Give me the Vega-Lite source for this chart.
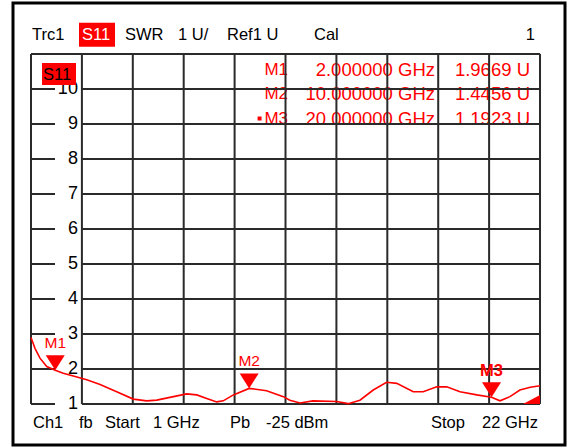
{
  "$schema": "https://vega.github.io/schema/vega-lite/v6.json",
  "width": 552,
  "height": 442,
  "autosize": "none",
  "padding": {"left": 13, "top": 3, "right": 4, "bottom": 2},
  "background": "white",
  "config": {
    "view": {"stroke": "black", "strokeWidth": 3},
    "text": {"font": "Liberation Sans", "fontSize": 16.5}
  },
  "datasets": {
    "trace": [
      {"f": 1.0, "v": 2.9}, {"f": 1.165, "v": 2.59}, {"f": 1.37, "v": 2.31}, {"f": 1.65, "v": 2.07},
      {"f": 2.0, "v": 1.967}, {"f": 2.33, "v": 1.88}, {"f": 2.745, "v": 1.8}, {"f": 3.3, "v": 1.69},
      {"f": 3.85, "v": 1.56}, {"f": 4.535, "v": 1.35}, {"f": 5.22, "v": 1.14}, {"f": 5.77, "v": 1.09},
      {"f": 6.19, "v": 1.11}, {"f": 6.73, "v": 1.19}, {"f": 7.42, "v": 1.29}, {"f": 7.84, "v": 1.26},
      {"f": 8.25, "v": 1.16}, {"f": 8.66, "v": 1.06}, {"f": 8.93, "v": 1.09}, {"f": 9.35, "v": 1.26},
      {"f": 10.0, "v": 1.4456}, {"f": 10.72, "v": 1.38}, {"f": 11.41, "v": 1.21}, {"f": 11.68, "v": 1.11},
      {"f": 12.1, "v": 1.03}, {"f": 12.63, "v": 1.09}, {"f": 13.61, "v": 1.07}, {"f": 14.09, "v": 1.01},
      {"f": 14.57, "v": 1.11}, {"f": 15.12, "v": 1.4}, {"f": 15.67, "v": 1.62}, {"f": 16.09, "v": 1.59},
      {"f": 16.77, "v": 1.35}, {"f": 17.18, "v": 1.35}, {"f": 17.74, "v": 1.49}, {"f": 18.15, "v": 1.49},
      {"f": 18.7, "v": 1.35}, {"f": 19.39, "v": 1.26}, {"f": 20.0, "v": 1.1923}, {"f": 20.35, "v": 1.09},
      {"f": 20.76, "v": 1.21}, {"f": 21.17, "v": 1.4}, {"f": 21.6, "v": 1.48}, {"f": 22.0, "v": 1.52}
    ],
    "markers": [
      {"name": "M1", "f": 2.0, "v": 1.9669, "active": false},
      {"name": "M2", "f": 10.0, "v": 1.4456, "active": false},
      {"name": "M3", "f": 20.0, "v": 1.1923, "active": true}
    ],
    "vgrid": [
      {"f": 1}, {"f": 3.1}, {"f": 5.2}, {"f": 7.3}, {"f": 9.4}, {"f": 11.5},
      {"f": 13.6}, {"f": 15.7}, {"f": 17.8}, {"f": 19.9}, {"f": 22}
    ],
    "hgrid": [
      {"v": 1}, {"v": 2}, {"v": 3}, {"v": 4}, {"v": 5}, {"v": 6}, {"v": 7}, {"v": 8}, {"v": 9}, {"v": 10}
    ],
    "table": [
      {"m": "M1", "freq": "2.000000 GHz", "val": "1.9669 U", "v": 10.543},
      {"m": "M2", "freq": "10.000000 GHz", "val": "1.4456 U", "v": 9.857},
      {"m": "M3", "freq": "20.000000 GHz", "val": "1.1923 U", "v": 9.157}
    ],
    "header": [
      {"t": "Trc1", "f": 1.041}, {"t": "SWR", "f": 4.878}, {"t": "1 U/", "f": 7.065},
      {"t": "Ref1 U", "f": 9.086}, {"t": "Cal", "f": 12.676}
    ],
    "footer": [
      {"t": "Ch1", "f": 1.083}, {"t": "fb", "f": 2.98}, {"t": "Start", "f": 4.053},
      {"t": "1 GHz", "f": 6.033}, {"t": "Pb", "f": 9.21}, {"t": "-25 dBm", "f": 10.695},
      {"t": "Stop", "f": 17.503}
    ],
    "boxes": [
      {"f": 2.98, "f2": 4.466, "v": 11.894, "v2": 11.209},
      {"f": 1.454, "f2": 2.857, "v": 10.743, "v2": 10.114}
    ]
  },
  "layer": [
    {
      "data": {"name": "table"},
      "mark": {"type": "text", "align": "right", "baseline": "middle", "color": "#ff0000", "fontSize": 17},
      "encoding": {
        "x": {"datum": 11.603, "type": "quantitative", "scale": {"domain": [0.2574, 23.031], "nice": false, "zero": false}, "axis": null},
        "y": {"field": "v", "type": "quantitative", "scale": {"domain": [-0.1714, 12.4571], "nice": false, "zero": false}, "axis": null},
        "text": {"field": "m"}
      }
    },
    {
      "data": {"name": "table"},
      "mark": {"type": "text", "align": "right", "baseline": "middle", "color": "#ff0000", "fontSize": 18.5},
      "encoding": {
        "x": {"datum": 17.668, "type": "quantitative", "scale": {"domain": [0.2574, 23.031], "nice": false, "zero": false}, "axis": null},
        "y": {"field": "v", "type": "quantitative", "scale": {"domain": [-0.1714, 12.4571], "nice": false, "zero": false}, "axis": null},
        "text": {"field": "freq"}
      }
    },
    {
      "data": {"name": "table"},
      "mark": {"type": "text", "align": "right", "baseline": "middle", "color": "#ff0000", "fontSize": 18.5},
      "encoding": {
        "x": {"datum": 21.587, "type": "quantitative", "scale": {"domain": [0.2574, 23.031], "nice": false, "zero": false}, "axis": null},
        "y": {"field": "v", "type": "quantitative", "scale": {"domain": [-0.1714, 12.4571], "nice": false, "zero": false}, "axis": null},
        "text": {"field": "val"}
      }
    },
    {
      "data": {"values": [{"f": 10.43, "v": 9.157}]},
      "mark": {"type": "point", "shape": "square", "filled": true, "color": "#ff0000", "size": 16, "opacity": 1},
      "encoding": {
        "x": {"field": "f", "type": "quantitative", "scale": {"domain": [0.2574, 23.031], "nice": false, "zero": false}, "axis": null},
        "y": {"field": "v", "type": "quantitative", "scale": {"domain": [-0.1714, 12.4571], "nice": false, "zero": false}, "axis": null}
      }
    },
    {
      "data": {"name": "vgrid"},
      "mark": {"type": "rule", "color": "#2a2a2a", "strokeWidth": 2},
      "encoding": {
        "x": {"field": "f", "type": "quantitative", "scale": {"domain": [0.2574, 23.031], "nice": false, "zero": false}, "axis": null},
        "y": {"datum": 1, "type": "quantitative", "scale": {"domain": [-0.1714, 12.4571], "nice": false, "zero": false}, "axis": null},
        "y2": {"datum": 11}
      }
    },
    {
      "data": {"name": "hgrid"},
      "mark": {"type": "rule", "color": "#2a2a2a", "strokeWidth": 2},
      "encoding": {
        "x": {"datum": 3.1, "type": "quantitative", "scale": {"domain": [0.2574, 23.031], "nice": false, "zero": false}, "axis": null},
        "x2": {"datum": 22},
        "y": {"field": "v", "type": "quantitative", "scale": {"domain": [-0.1714, 12.4571], "nice": false, "zero": false}, "axis": null}
      }
    },
    {
      "data": {"name": "hgrid"},
      "mark": {"type": "rule", "color": "#2a2a2a", "strokeWidth": 2},
      "encoding": {
        "x": {"datum": 1, "type": "quantitative", "scale": {"domain": [0.2574, 23.031], "nice": false, "zero": false}, "axis": null},
        "x2": {"datum": 1.99},
        "y": {"field": "v", "type": "quantitative", "scale": {"domain": [-0.1714, 12.4571], "nice": false, "zero": false}, "axis": null}
      }
    },
    {
      "data": {"values": [{"v": 11}]},
      "mark": {"type": "rule", "color": "#2a2a2a", "strokeWidth": 2},
      "encoding": {
        "x": {"datum": 1, "type": "quantitative", "scale": {"domain": [0.2574, 23.031], "nice": false, "zero": false}, "axis": null},
        "x2": {"datum": 22},
        "y": {"field": "v", "type": "quantitative", "scale": {"domain": [-0.1714, 12.4571], "nice": false, "zero": false}, "axis": null}
      }
    },
    {
      "data": {"name": "hgrid"},
      "mark": {"type": "text", "align": "right", "baseline": "middle", "dx": -4, "color": "#000000", "fontSize": 18},
      "encoding": {
        "x": {"datum": 3.1, "type": "quantitative", "scale": {"domain": [0.2574, 23.031], "nice": false, "zero": false}, "axis": null},
        "y": {"field": "v", "type": "quantitative", "scale": {"domain": [-0.1714, 12.4571], "nice": false, "zero": false}, "axis": null},
        "text": {"field": "v", "type": "quantitative"}
      }
    },
    {
      "data": {"name": "boxes"},
      "mark": {"type": "rect", "color": "#ff0000"},
      "encoding": {
        "x": {"field": "f", "type": "quantitative", "scale": {"domain": [0.2574, 23.031], "nice": false, "zero": false}, "axis": null},
        "x2": {"field": "f2"},
        "y": {"field": "v", "type": "quantitative", "scale": {"domain": [-0.1714, 12.4571], "nice": false, "zero": false}, "axis": null},
        "y2": {"field": "v2"}
      }
    },
    {
      "data": {"values": [{"t": "S11", "f": 3.104, "v": 11.529}]},
      "mark": {"type": "text", "align": "left", "baseline": "middle", "color": "#ffffff"},
      "encoding": {
        "x": {"field": "f", "type": "quantitative", "scale": {"domain": [0.2574, 23.031], "nice": false, "zero": false}, "axis": null},
        "y": {"field": "v", "type": "quantitative", "scale": {"domain": [-0.1714, 12.4571], "nice": false, "zero": false}, "axis": null},
        "text": {"field": "t"}
      }
    },
    {
      "data": {"values": [{"t": "S11", "f": 1.495, "v": 10.4}]},
      "mark": {"type": "text", "align": "left", "baseline": "middle", "color": "#000000"},
      "encoding": {
        "x": {"field": "f", "type": "quantitative", "scale": {"domain": [0.2574, 23.031], "nice": false, "zero": false}, "axis": null},
        "y": {"field": "v", "type": "quantitative", "scale": {"domain": [-0.1714, 12.4571], "nice": false, "zero": false}, "axis": null},
        "text": {"field": "t"}
      }
    },
    {
      "data": {"name": "header"},
      "mark": {"type": "text", "align": "left", "baseline": "middle", "color": "#000000"},
      "encoding": {
        "x": {"field": "f", "type": "quantitative", "scale": {"domain": [0.2574, 23.031], "nice": false, "zero": false}, "axis": null},
        "y": {"datum": 11.529, "type": "quantitative", "scale": {"domain": [-0.1714, 12.4571], "nice": false, "zero": false}, "axis": null},
        "text": {"field": "t"}
      }
    },
    {
      "data": {"values": [{"t": "1", "f": 21.794}]},
      "mark": {"type": "text", "align": "right", "baseline": "middle", "color": "#000000"},
      "encoding": {
        "x": {"field": "f", "type": "quantitative", "scale": {"domain": [0.2574, 23.031], "nice": false, "zero": false}, "axis": null},
        "y": {"datum": 11.529, "type": "quantitative", "scale": {"domain": [-0.1714, 12.4571], "nice": false, "zero": false}, "axis": null},
        "text": {"field": "t"}
      }
    },
    {
      "data": {"name": "footer"},
      "mark": {"type": "text", "align": "left", "baseline": "middle", "color": "#000000"},
      "encoding": {
        "x": {"field": "f", "type": "quantitative", "scale": {"domain": [0.2574, 23.031], "nice": false, "zero": false}, "axis": null},
        "y": {"datum": 0.471, "type": "quantitative", "scale": {"domain": [-0.1714, 12.4571], "nice": false, "zero": false}, "axis": null},
        "text": {"field": "t"}
      }
    },
    {
      "data": {"values": [{"t": "22 GHz", "f": 21.917}]},
      "mark": {"type": "text", "align": "right", "baseline": "middle", "color": "#000000"},
      "encoding": {
        "x": {"field": "f", "type": "quantitative", "scale": {"domain": [0.2574, 23.031], "nice": false, "zero": false}, "axis": null},
        "y": {"datum": 0.471, "type": "quantitative", "scale": {"domain": [-0.1714, 12.4571], "nice": false, "zero": false}, "axis": null},
        "text": {"field": "t"}
      }
    },
    {
      "data": {"name": "trace"},
      "mark": {"type": "line", "color": "#ff0000", "strokeWidth": 1.6},
      "encoding": {
        "x": {"field": "f", "type": "quantitative", "scale": {"domain": [0.2574, 23.031], "nice": false, "zero": false}, "axis": null},
        "y": {"field": "v", "type": "quantitative", "scale": {"domain": [-0.1714, 12.4571], "nice": false, "zero": false}, "axis": null}
      }
    },
    {
      "data": {"name": "markers"},
      "mark": {"type": "point", "shape": "M-1,-1.58L1,-1.58L0,0Z", "filled": true, "color": "#ff0000", "size": 361, "opacity": 1, "strokeWidth": 0},
      "encoding": {
        "x": {"field": "f", "type": "quantitative", "scale": {"domain": [0.2574, 23.031], "nice": false, "zero": false}, "axis": null},
        "y": {"field": "v", "type": "quantitative", "scale": {"domain": [-0.1714, 12.4571], "nice": false, "zero": false}, "axis": null}
      }
    },
    {
      "data": {"name": "markers"},
      "transform": [{"filter": "!datum.active"}],
      "mark": {"type": "text", "align": "center", "baseline": "middle", "dy": -27, "color": "#ff0000", "fontSize": 15.5},
      "encoding": {
        "x": {"field": "f", "type": "quantitative", "scale": {"domain": [0.2574, 23.031], "nice": false, "zero": false}, "axis": null},
        "y": {"field": "v", "type": "quantitative", "scale": {"domain": [-0.1714, 12.4571], "nice": false, "zero": false}, "axis": null},
        "text": {"field": "name"}
      }
    },
    {
      "data": {"name": "markers"},
      "transform": [{"filter": "datum.active"}],
      "mark": {"type": "text", "align": "center", "baseline": "middle", "dy": -26, "color": "#ff0000", "fontSize": 16.5, "fontWeight": "bold"},
      "encoding": {
        "x": {"field": "f", "type": "quantitative", "scale": {"domain": [0.2574, 23.031], "nice": false, "zero": false}, "axis": null},
        "y": {"field": "v", "type": "quantitative", "scale": {"domain": [-0.1714, 12.4571], "nice": false, "zero": false}, "axis": null},
        "text": {"field": "name"}
      }
    },
    {
      "data": {"values": [{"f": 22, "v": 1}]},
      "mark": {"type": "point", "shape": "M0,0L-2,0L0,-1.06Z", "filled": true, "color": "#ff0000", "size": 289, "opacity": 1, "strokeWidth": 0},
      "encoding": {
        "x": {"field": "f", "type": "quantitative", "scale": {"domain": [0.2574, 23.031], "nice": false, "zero": false}, "axis": null},
        "y": {"field": "v", "type": "quantitative", "scale": {"domain": [-0.1714, 12.4571], "nice": false, "zero": false}, "axis": null}
      }
    }
  ]
}
